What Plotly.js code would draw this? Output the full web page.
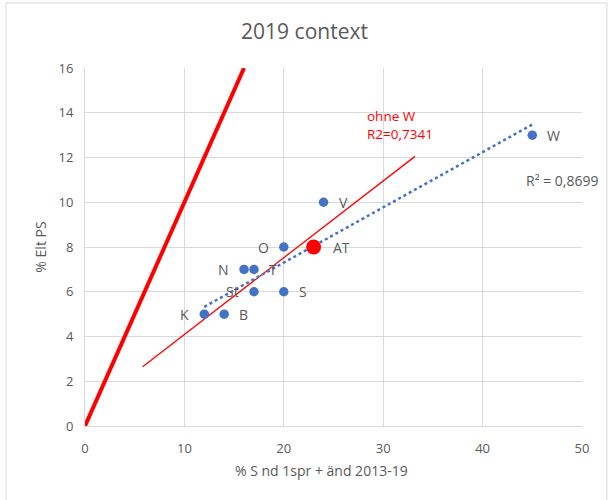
<!DOCTYPE html>
<html>
<head>
<meta charset="utf-8">
<script src="https://cdn.plot.ly/plotly-3.0.1.min.js"></script>
<style>html,body{margin:0;padding:0;background:#fff;}#chart{width:609px;height:500px;}</style>
</head>
<body>
<div id="chart"></div>
<script>
// Data
const labels = ["K", "B", "St", "S", "N", "T", "O", "AT", "V", "W"];
const xVals  = [12, 14, 17, 20, 16, 17, 20, 23, 24, 45];
const yVals  = [5, 5, 6, 6, 7, 7, 8, 8, 10, 13];
const labelSide = ["left", "right", "left", "right", "left", "right", "left", "right", "right", "right"];
// highlighted point
const highlightLabel = "AT";
// diagonal reference line (y = x)
const diagX = [0, 16];
const diagY = [0, 16];
// hand-drawn "ohne W" line
const ohneWX = [5.8, 33.2];
const ohneWY = [2.65, 12.05];

// linear trendline over all points (as Excel does)
function linfit(xs, ys) {
  const n = xs.length;
  const mx = xs.reduce((a, b) => a + b, 0) / n;
  const my = ys.reduce((a, b) => a + b, 0) / n;
  let sxy = 0, sxx = 0;
  for (let i = 0; i < n; i++) { sxy += (xs[i] - mx) * (ys[i] - my); sxx += (xs[i] - mx) ** 2; }
  const m = sxy / sxx;
  return { m: m, b: my - m * mx };
}
const fit = linfit(xVals, yVals);
const trendX = [Math.min(...xVals), Math.max(...xVals)];
const trendY = trendX.map(x => fit.m * x + fit.b);

const blue = "#4472C4";
const grey = "#595959";
const font = "'Open Sans', sans-serif";

const hi = labels.indexOf(highlightLabel);

const traces = [
  { x: diagX, y: diagY, mode: "lines", line: { color: "#FF0000", width: 4 }, hoverinfo: "skip" },
  { x: ohneWX, y: ohneWY, mode: "lines", line: { color: "#FF0000", width: 1.3 }, hoverinfo: "skip" },
  { x: trendX, y: trendY, mode: "lines", line: { color: blue, width: 2.5, dash: "dot" }, hoverinfo: "skip" },
  { x: xVals, y: yVals, mode: "markers", marker: { color: blue, size: 9.5 } },
  { x: [xVals[hi]], y: [yVals[hi]], mode: "markers", marker: { color: "#FF0000", size: 15 } }
];

const pointLabels = labels.map((t, i) => ({
  x: xVals[i], y: yVals[i], xref: "x", yref: "y", text: t, showarrow: false,
  xanchor: labelSide[i] === "left" ? "right" : "left", yanchor: "middle",
  xshift: (labelSide[i] === "left" ? -1 : 1) * (i === hi ? 17 : 13), yshift: 0,
  font: { color: grey, size: 14, family: font }
}));

const layout = {
  width: 609, height: 500,
  margin: { l: 85, r: 27, t: 68, b: 74 },
  showlegend: false,
  paper_bgcolor: "#fff", plot_bgcolor: "#fff",
  font: { family: font, color: grey, size: 13 },
  title: { text: "2019 context", x: 0.5, xref: "container", y: 0.936, yref: "container", yanchor: "middle",
           font: { size: 21, color: grey, family: font } },
  xaxis: {
    range: [0, 50], dtick: 10, showgrid: true, gridcolor: "#D9D9D9", zeroline: false,
    showline: true, linecolor: "#D9D9D9", ticks: "", tickfont: { size: 13, color: grey },
    ticklabelstandoff: 10, fixedrange: true
  },
  yaxis: {
    range: [0, 16], dtick: 2, showgrid: true, gridcolor: "#D9D9D9", zeroline: false,
    showline: true, linecolor: "#D9D9D9", ticks: "", tickfont: { size: 13, color: grey },
    ticklabelstandoff: 8,
    title: { text: "% Elt PS", font: { size: 14, color: grey }, standoff: 8 },
    fixedrange: true
  },
  annotations: pointLabels.concat([
    { x: 28.2, y: 13.45, xref: "x", yref: "y", text: "ohne W<br>R2=0,7341", showarrow: false,
      xanchor: "left", yanchor: "middle", align: "left", font: { color: "#FF0000", size: 13.5, family: font } },
    { x: 44.2, y: 10.95, xref: "x", yref: "y", text: "R² = 0,8699", showarrow: false,
      xanchor: "left", yanchor: "middle", font: { color: grey, size: 14, family: font } },
    { x: (321 - 85) / 497, y: (426 - 470) / 358, xref: "paper", yref: "paper", text: "% S nd 1spr + änd 2013-19",
      showarrow: false, xanchor: "center", yanchor: "middle",
      font: { color: grey, size: 14, family: font } }
  ]),
  shapes: [
    { type: "line", xref: "paper", yref: "paper", x0: -0.159, x1: 1.05, y0: 1.1816, y1: 1.1816,
      line: { color: "#D9D9D9", width: 1 } },
    { type: "line", xref: "paper", yref: "paper", x0: -0.159, x1: -0.159, y0: 1.1816, y1: -0.3,
      line: { color: "#D9D9D9", width: 1 } },
    { type: "line", xref: "paper", yref: "paper", x0: 1.05, x1: 1.05, y0: 1.1816, y1: -0.3,
      line: { color: "#D9D9D9", width: 1 } }
  ]
};

Plotly.newPlot("chart", traces, layout, { displayModeBar: false, staticPlot: true });
</script>
</body>
</html>
